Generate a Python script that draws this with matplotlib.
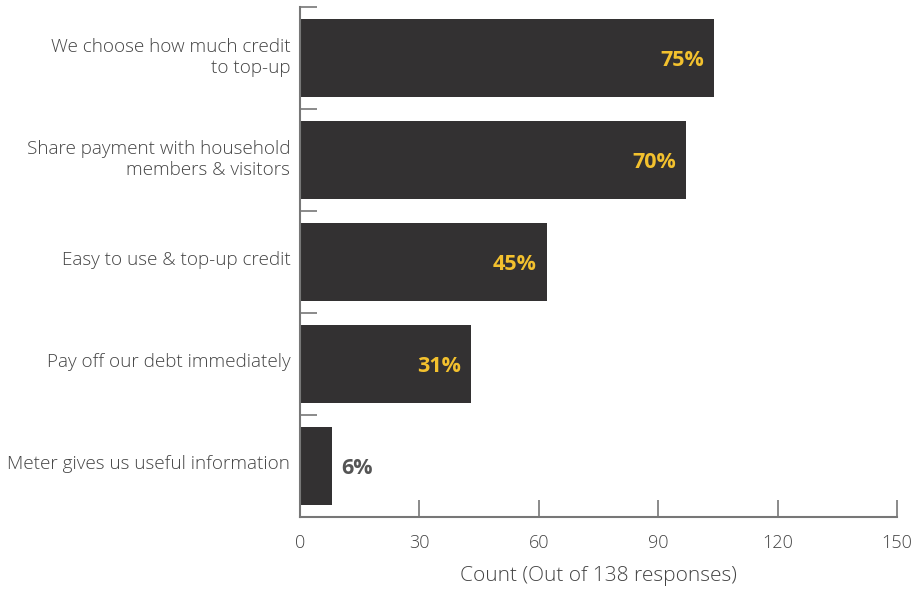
import matplotlib.pyplot as plt
from matplotlib.transforms import ScaledTranslation

# survey answers, counts out of 138 respondents
kategorier = ['We choose how much credit\nto top-up',
              'Share payment with household\nmembers & visitors',
              'Easy to use & top-up credit',
              'Pay off our debt immediately',
              'Meter gives us useful information']
antall = [104, 97, 62, 43, 8]
totalt = 138
xticks = [0, 30, 60, 90, 120, 150]

plt.rcParams['font.family'] = ['Open Sans', 'DejaVu Sans']

fig = plt.figure(figsize=(9.15, 5.93), dpi=100)
ax = fig.add_axes([0.3279, 0.1282, 0.6524, 0.8600])

pos = list(range(len(kategorier)))
ax.barh(pos, antall, height=0.765, color='#333132')

# percentage labels, inside the bar if there is room
for p, n in zip(pos, antall):
    pst = round(n / totalt * 100)
    if n > 20:
        ax.text(n - 2.5, p + 0.02, f'{pst}%', ha='right', va='center',
                color='#F3C12E', fontsize=15.5, fontweight='bold')
    else:
        ax.text(n + 2.3, p + 0.02, f'{pst}%', ha='left', va='center',
                color='#555555', fontsize=15.5, fontweight='bold')

ax.set_ylim(4.5, -0.5)
ax.set_xlim(0, 150)
ax.set_yticks([p - 0.5 for p in pos])
ax.set_yticklabels([])
ax.set_yticks(pos, minor=True)
ax.set_yticklabels(kategorier, minor=True, fontsize=13.6, color='#444444',
                   fontweight='light', ha='right', linespacing=1.25)
ax.tick_params(axis='y', which='minor', length=0, pad=7)
ax.tick_params(axis='y', which='major', direction='in', length=12,
               width=1.2, color='#777777')
# lift the category names a little
opp = ScaledTranslation(0, 4 / 100, fig.dpi_scale_trans)
for lbl in ax.get_yticklabels(minor=True):
    lbl.set_transform(lbl.get_transform() + opp)

ax.set_xticks(xticks)
ax.set_xticklabels([str(t) for t in xticks], fontsize=13, color='#444444',
                   fontweight='light')
ax.tick_params(axis='x', direction='in', length=12, width=1.2,
               color='#777777', pad=12)
ax.set_xlabel('Count (Out of 138 responses)', fontsize=15, color='#444444',
              fontweight='light', labelpad=10)

for s in ['top', 'right']:
    ax.spines[s].set_visible(False)
for s in ['left', 'bottom']:
    ax.spines[s].set_color('#777777')
    ax.spines[s].set_linewidth(1.5)

fig.savefig('out.png', dpi=100)
